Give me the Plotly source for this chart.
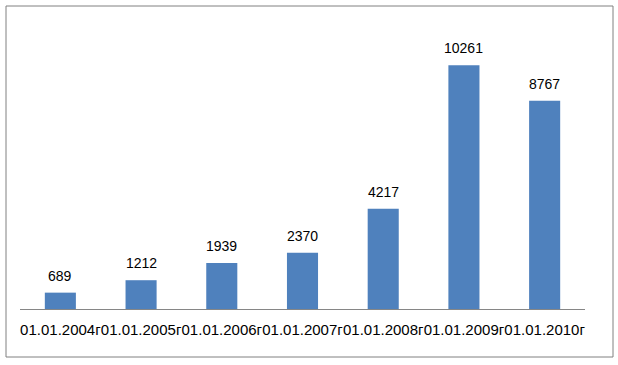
import plotly.graph_objects as go

categories = ["01.01.2004г", "01.01.2005г", "01.01.2006г", "01.01.2007г",
              "01.01.2008г", "01.01.2009г", "01.01.2010г"]
values = [689, 1212, 1939, 2370, 4217, 10261, 8767]

W, H = 618, 365
L, R, T, B = 20, 33, 24, 56
pw, ph = W - L - R, H - T - B
FONT = "Liberation Sans, Arial"

fig = go.Figure(go.Bar(
    x=categories, y=values,
    marker=dict(color="#4F81BD", line=dict(width=0)),
    hoverinfo="x+y",
))

for c, v in zip(categories, values):
    fig.add_annotation(x=c, y=v, text=str(v), showarrow=False,
                       yanchor="bottom", yshift=7,
                       font=dict(family=FONT, size=14, color="#000000"))

fig.update_layout(
    width=W, height=H,
    margin=dict(l=L, r=R, t=T, b=B, autoexpand=False),
    plot_bgcolor="white", paper_bgcolor="white",
    bargap=0.615,
    showlegend=False,
    xaxis=dict(showline=True, linecolor="#868686", linewidth=1,
               tickfont=dict(family=FONT, size=15, color="#000000"),
               tickangle=0,
               ticks="outside", ticklen=7, tickcolor="rgba(0,0,0,0)",
               showgrid=False, fixedrange=True, automargin=False),
    yaxis=dict(range=[0, 12000], visible=False, showgrid=False, fixedrange=True,
               automargin=False),
    shapes=[dict(type="rect", xref="paper", yref="paper",
                 x0=(6 - L) / pw, x1=(613 - L) / pw,
                 y0=(H - B - 357) / ph, y1=(H - B - 6) / ph,
                 line=dict(color="#808080", width=1), layer="below")],
)

fig.write_html("out.html", config={"displayModeBar": False},
               post_script="document.body.style.margin='0';document.body.style.padding='0';")
